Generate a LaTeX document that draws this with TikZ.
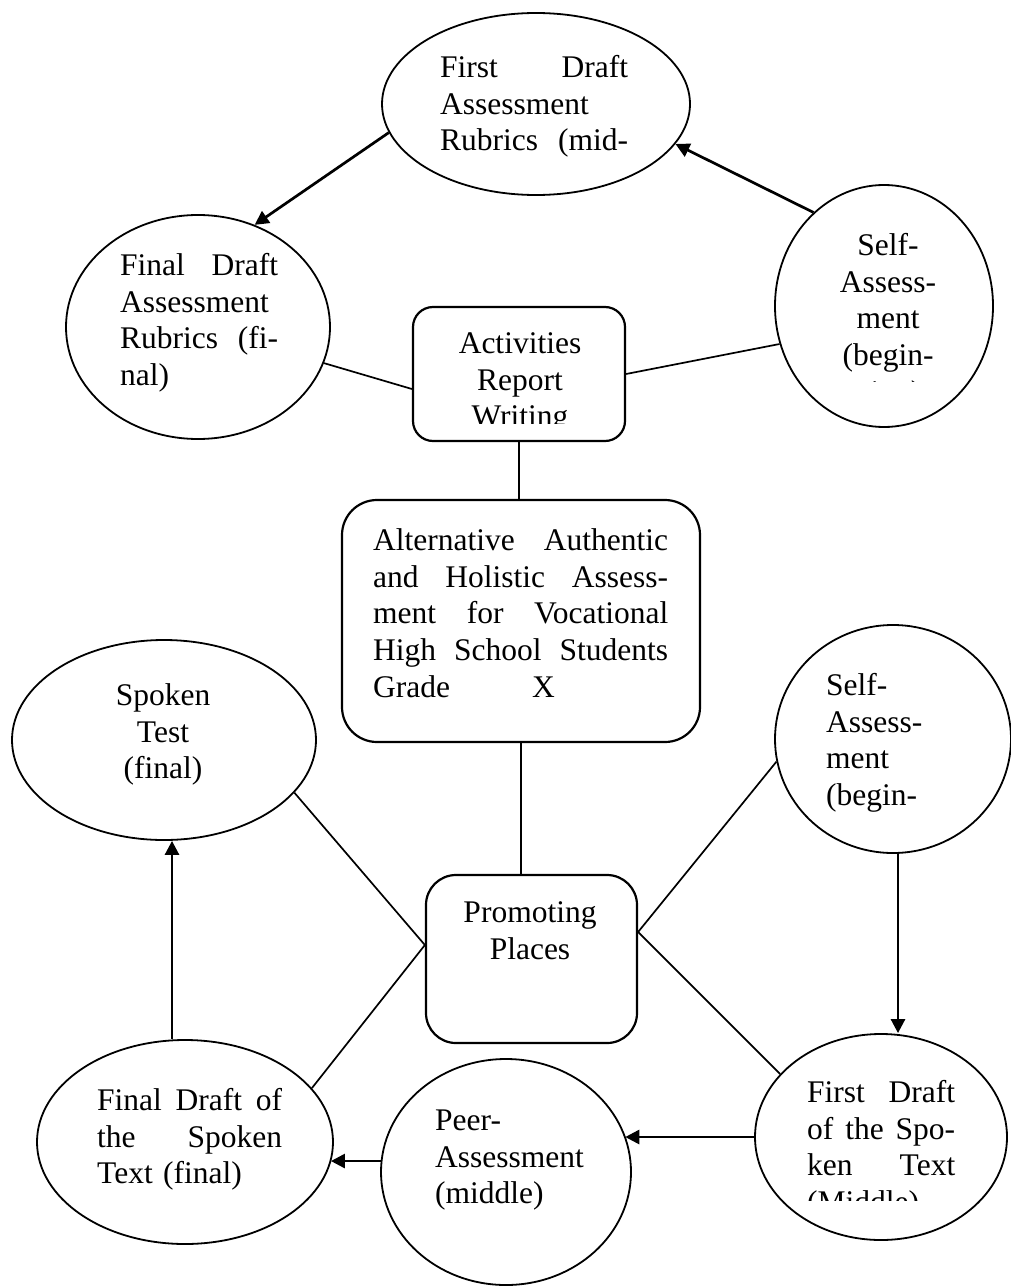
\documentclass[tikz,border=0pt]{standalone}
\usepackage{fontspec}
\setmainfont{Liberation Serif}
\usetikzlibrary{shapes.geometric,arrows.meta,calc}
% body text size and line pitch
\newcommand\bodyfont{\fontsize{31.5}{36.8}\selectfont}
% a line stretched to the full text width (interword spaces made stretchable)
\newcommand\jl[1]{{\spaceskip=.25em plus 20em\xspaceskip=.25em plus 20em\makebox[\hsize][s]{#1}}}
% fixed-height strut so the first baseline sits 26pt below the node top
\newcommand\fst{\rule{0pt}{26pt}}

\begin{document}
\begin{tikzpicture}[x=1pt,y=-1pt,
  bubble/.style={draw, ellipse, line width=1.8pt, inner sep=0pt},
  panel/.style={draw, rectangle, line width=2.2pt, inner sep=0pt},
  link/.style={line width=1.7pt},
  flow/.style={line width=2.7pt, -{Triangle[length=14pt,width=14pt]}},
  ltext/.style={anchor=north west, inner sep=0pt, align=left, text width=#1, font=\bodyfont},
  ctext/.style={anchor=north, inner sep=0pt, align=center, font=\bodyfont},
]
\fill[white] (0,0) rectangle (1010,1287);
\useasboundingbox (0,0) rectangle (1010,1287);

% ---- shapes ----
\node[bubble, minimum width=308pt, minimum height=182pt] (e1) at (536,104) {};
\node[bubble, minimum width=264pt, minimum height=224pt] (e2) at (198,327) {};
\node[bubble, minimum width=218pt, minimum height=242pt] (e3) at (884,306) {};
\node[bubble, minimum width=304pt, minimum height=200pt] (e4) at (164,740) {};
\node[bubble, minimum width=236pt, minimum height=228pt] (e5) at (893,739) {};
\node[bubble, minimum width=252pt, minimum height=206pt] (e6) at (881,1137) {};
\node[bubble, minimum width=250pt, minimum height=226pt] (e7) at (506,1172) {};
\node[bubble, minimum width=296pt, minimum height=204pt] (e8) at (185,1142) {};

\node[panel, rounded corners=20pt, minimum width=212pt, minimum height=134pt] (b1) at (519,374) {};
\node[panel, rounded corners=35pt, minimum width=358pt, minimum height=242pt] (b2) at (521,621) {};
\node[panel, rounded corners=30pt, minimum width=211pt, minimum height=168pt] (b3) at (531.5,959) {};

% ---- texts ----
\node[ltext=188pt] (t1) at (440,51) {\fst\jl{First Draft}\\Assessment\\\jl{Rubrics (mid-}};
\node[ltext=158pt] (t2) at (120,249) {\fst\jl{Final Draft}\\Assessment\\\jl{Rubrics (fi-}\\nal)};
\begin{scope}
  \clip (760,180) rectangle (1000,381);
  \node[ctext] (t3) at (888,229) {\fst Self-\\Assess-\\ment\\(begin-\\ning)};
\end{scope}
\begin{scope}
  \clip (400,300) rectangle (640,423);
  \node[ctext] (t4) at (520,327) {\fst Activities\\Report\\Writing};
\end{scope}
\node[ltext=295pt] (t5) at (373,524) {\fst\jl{Alternative Authentic}\\\jl{and Holistic Assess-}\\\jl{ment for Vocational}\\\jl{High School Students}\\Grade\hspace{82pt}X};
\node[ctext] (t6) at (163,679) {\fst Spoken\\Test\\(final)};
\node[ltext=160pt] (t7) at (826,669) {\fst Self-\\Assess-\\ment\\(begin-};
\node[ctext] (t8) at (530,896) {\fst Promoting\\Places};
\begin{scope}
  \clip (790,1060) rectangle (980,1200);
  \node[ltext=148pt] (t9) at (807,1076) {\fst\jl{First Draft}\\\jl{of the Spo-}\\\jl{ken Text}\\(Middle)};
\end{scope}
\node[ltext=200pt] (t10) at (435,1104) {\fst Peer-\\Assessment\\(middle)};
\node[ltext=185pt] (t11) at (97,1084) {\fst\jl{Final Draft of}\\\jl{the Spoken}\\Text (final)};

% ---- plain links ----
\draw[link] ([yshift=-15pt]b1.west) -- (e2.-16);
\draw[link] (b1.east) -- (e3.200);
\draw[link] (b1.south) -- (b1.south |- b2.north);
\draw[link] (b2.south) -- (b2.south |- b3.north);
\draw[link] ([yshift=14pt]b3.west) -- (e4.-22);
\draw[link] ([yshift=14pt]b3.west) -- (e8.23);
\draw[link] ([yshift=27pt]b3.east) -- (e5.191);
\draw[link] ([yshift=27pt]b3.east) -- (e6.148);

% ---- arrows ----
\draw[flow] (e3.127) -- (e1.-16);
\draw[flow] (e1.191) -- (e2.61);
\draw[flow] ([xshift=5pt]e5.south) -- ([xshift=5pt]e5.south |- e6.north);
\draw[flow] (e6.west) -- (e6.west -| e7.17);
\draw[flow] (e7.175) -- (e7.175 -| e8.-8);
\draw[flow] ([xshift=-13pt]e8.north) -- ([xshift=-13pt]e8.north |- e4.south);
\end{tikzpicture}
\end{document}
